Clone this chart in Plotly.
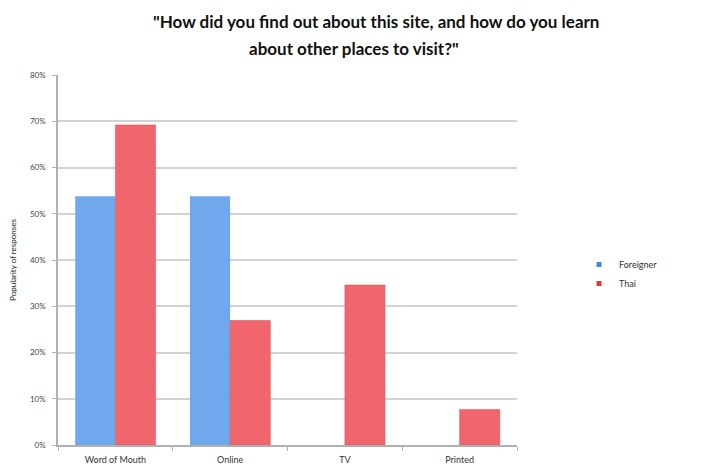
import plotly.graph_objects as go

categories = ["Word of Mouth", "Online", "TV", "Printed"]
foreigner = [0.538, 0.538, 0, 0]
thai = [0.692, 0.269, 0.346, 0.077]
y_ticks = [0, 0.1, 0.2, 0.3, 0.4, 0.5, 0.6, 0.7, 0.8]
y_tick_labels = ["0%", "10%", "20%", "30%", "40%", "50%", "60%", "70%", "80%"]
title_lines = ['"How did you find out about this site, and how do you learn',
               'about other places to visit?"']

W, H = 706, 468
L, R, T, B = 58, 189, 75, 23
BLUE = "#6fa8ec"
RED = "#f1666c"

fig = go.Figure()
fig.add_trace(go.Bar(
    name="Foreigner", x=categories, y=foreigner, showlegend=False,
    marker=dict(color=BLUE, line=dict(width=0)),
))
fig.add_trace(go.Bar(
    name="Thai", x=categories, y=thai, showlegend=False,
    marker=dict(color=RED, line=dict(color="#d84a50", width=0.5)),
))
# legend entries with small square swatches
fig.add_trace(go.Scatter(name="Foreigner", x=[None], y=[None], mode="markers",
                         marker=dict(symbol="square", size=5, color="#3f88dc")))
fig.add_trace(go.Scatter(name="Thai", x=[None], y=[None], mode="markers",
                         marker=dict(symbol="square", size=5, color="#e8363c")))

def to_paper(px_x, px_y):
    return (px_x - L) / (W - L - R), (H - B - px_y) / (H - T - B)

for text, cx, cy in [(title_lines[0], 376, 22), (title_lines[1], 354, 48)]:
    px, py = to_paper(cx, cy)
    fig.add_annotation(text="<b>" + text + "</b>", x=px, y=py,
                       xref="paper", yref="paper", xanchor="center", yanchor="middle",
                       showarrow=False, font=dict(size=17, color="#111"))

lx, ly = to_paper(579, 274)
fig.update_layout(
    width=W, height=H,
    margin=dict(l=L, r=R, t=T, b=B, autoexpand=False),
    paper_bgcolor="white", plot_bgcolor="white",
    barmode="group", bargap=0.3, bargroupgap=0,
    font=dict(family="Lato, sans-serif", color="#222"),
    legend=dict(
        x=lx, xanchor="left", y=ly, yanchor="middle",
        font=dict(size=9, color="#333"),
        itemwidth=30, tracegroupgap=4,
        bgcolor="rgba(0,0,0,0)",
    ),
    xaxis=dict(
        showline=True, linecolor="#b0b0b0", linewidth=1.5,
        ticks="outside", tickson="boundaries", ticklen=4, tickcolor="#b0b0b0",
        tickfont=dict(size=9, color="#333"), ticklabelstandoff=5,
        showgrid=False, automargin=False,
    ),
    yaxis=dict(
        range=[0, 0.8], tickvals=y_ticks, ticktext=y_tick_labels,
        showline=True, linecolor="#b0b0b0", linewidth=1.5,
        ticks="outside", ticklen=4, tickcolor="#b0b0b0",
        tickfont=dict(size=8, color="#444"), ticklabelstandoff=5,
        showgrid=True, gridcolor="#d2d2d2", gridwidth=1.5,
        title=dict(text="Popularity of responses", font=dict(size=8, color="#222"), standoff=12),
        zeroline=False, automargin=False,
    ),
)

fig.write_html("out.html", config={"displayModeBar": False},
               post_script="document.body.style.margin='0';")
